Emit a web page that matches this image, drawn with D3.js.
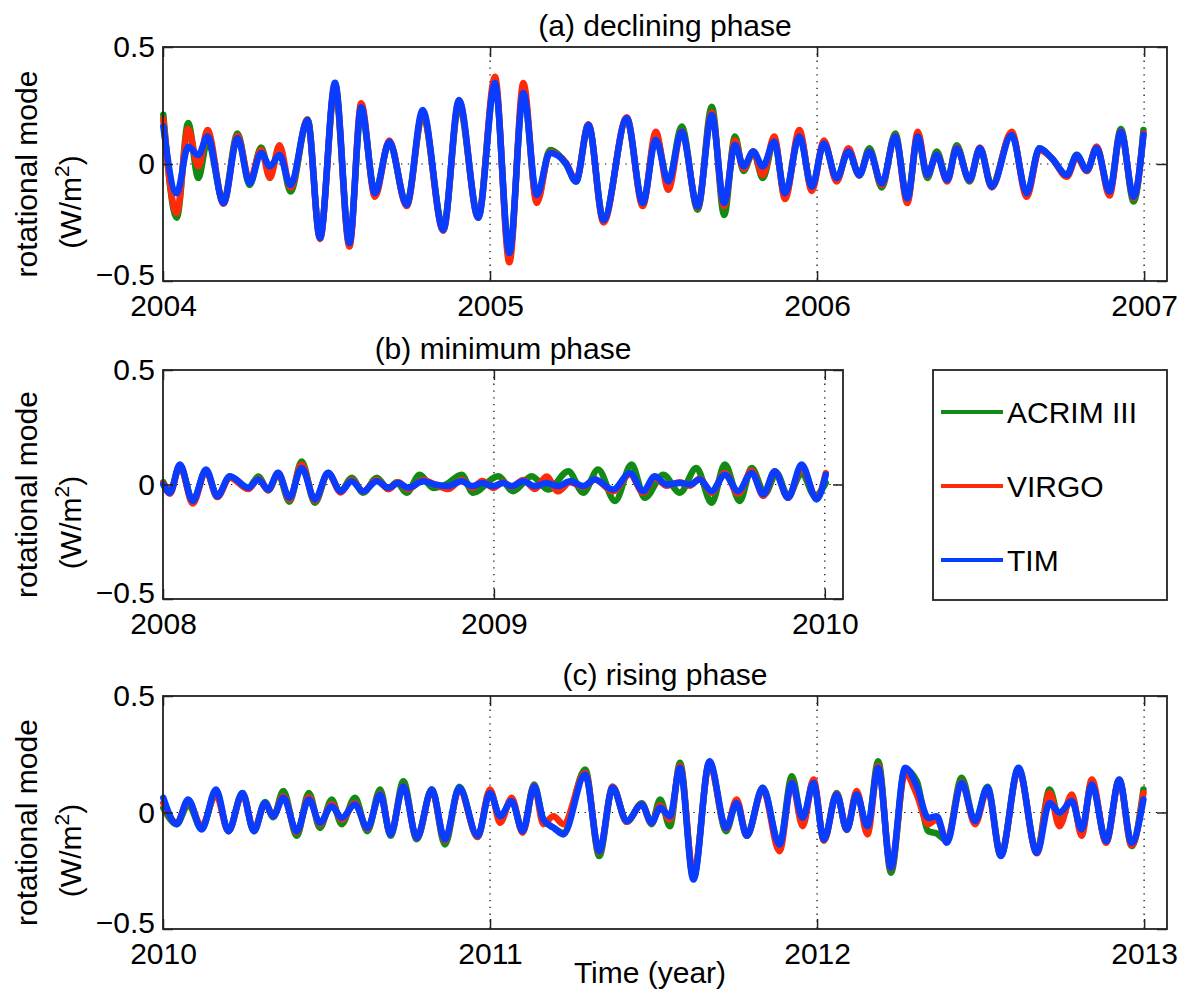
<!DOCTYPE html>
<html><head><meta charset="utf-8">
<script src="https://cdn.jsdelivr.net/npm/d3@7"></script>
<style>
body{margin:0;background:#fff;}
svg text{font-family:"Liberation Sans",Arial,Helvetica,sans-serif;fill:#000;}
</style></head><body>
<svg id="chart" width="1178" height="990"></svg>
<script>
// ---------- DATA ----------
const seriesNames = ["ACRIM III", "VIRGO", "TIM"];
const yTicks = [-0.5, 0, 0.5];

// (a) declining phase
const tA = [2004.001,2004.042,2004.077,2004.108,2004.136,2004.185,2004.228,2004.265,2004.300,2004.327,2004.356,2004.390,2004.442,2004.480,2004.526,2004.570,2004.606,2004.648,2004.692,2004.745,2004.794,2004.857,2004.905,2004.964,
2005.015,2005.059,2005.102,2005.143,2005.183,2005.232,2005.263,2005.301,2005.347,2005.418,2005.467,2005.507,2005.545,2005.586,2005.635,2005.678,2005.716,2005.749,2005.775,2005.805,2005.834,2005.869,2005.902,2005.946,2005.984,
2006.021,2006.060,2006.096,2006.129,2006.160,2006.198,2006.239,2006.276,2006.308,2006.337,2006.366,2006.398,2006.427,2006.466,2006.498,2006.534,2006.595,2006.641,2006.680,2006.718,2006.764,2006.794,2006.825,2006.855,2006.894,2006.929,2006.968,2006.998];
const acrimA = [0.21,-0.23,0.175,-0.06,0.1,-0.16,0.13,-0.09,0.07,-0.04,0.06,-0.118,0.19,-0.31,0.33,-0.34,0.23,-0.12,0.09,-0.17,0.21,-0.27,0.25,-0.22,
0.35,-0.39,0.31,-0.16,0.06,0.0,-0.075,0.167,-0.24,0.19,-0.17,0.12,-0.08,0.16,-0.195,0.245,-0.218,0.117,-0.03,0.053,-0.06,0.1,-0.14,0.13,-0.1,
0.09,-0.065,0.06,-0.05,0.067,-0.1,0.13,-0.155,0.12,-0.06,0.053,-0.07,0.08,-0.075,0.067,-0.09,0.13,-0.13,0.067,0.024,-0.047,0.04,-0.03,0.07,-0.12,0.15,-0.16,0.145];
const virgoA = [0.19,-0.21,0.15,-0.01,0.145,-0.17,0.12,-0.07,0.06,-0.06,0.08,-0.1,0.19,-0.32,0.34,-0.353,0.26,-0.14,0.1,-0.18,0.22,-0.285,0.27,-0.23,
0.373,-0.42,0.346,-0.167,0.05,0.005,-0.07,0.17,-0.25,0.2,-0.18,0.138,-0.11,0.14,-0.185,0.22,-0.18,0.1,-0.02,0.053,-0.047,0.117,-0.15,0.145,-0.115,
0.1,-0.075,0.067,-0.048,0.055,-0.09,0.12,-0.167,0.138,-0.05,0.04,-0.075,0.07,-0.07,0.07,-0.1,0.138,-0.14,0.06,0.024,-0.055,0.03,-0.03,0.075,-0.135,0.14,-0.145,0.13];
const timA = [0.16,-0.125,0.074,0.038,0.117,-0.167,0.11,-0.082,0.047,-0.01,0.038,-0.09,0.188,-0.317,0.347,-0.338,0.243,-0.125,0.095,-0.175,0.231,-0.282,0.274,-0.23,
0.346,-0.38,0.303,-0.132,0.047,0.003,-0.075,0.167,-0.24,0.195,-0.167,0.103,-0.075,0.138,-0.182,0.209,-0.167,0.081,-0.01,0.053,-0.01,0.095,-0.125,0.117,-0.097,
0.088,-0.061,0.053,-0.047,0.053,-0.083,0.117,-0.147,0.117,-0.047,0.038,-0.068,0.067,-0.068,0.067,-0.097,0.124,-0.125,0.067,0.024,-0.047,0.038,-0.026,0.067,-0.118,0.138,-0.14,0.125];

// (b) minimum phase
const tB = [2008.001,2008.021,2008.051,2008.090,2008.130,2008.164,2008.202,2008.258,2008.288,2008.318,
2008.348,2008.382,2008.419,2008.459,2008.499,2008.537,2008.570,2008.605,2008.646,2008.681,
2008.711,2008.741,2008.786,2008.822,2008.862,2008.902,2008.935,2008.965,2008.998,
2009.028,2009.053,2009.089,2009.124,2009.159,2009.194,2009.230,2009.270,2009.305,2009.360,
2009.411,2009.451,2009.486,2009.522,2009.562,2009.592,2009.622,2009.658,2009.698,2009.738,
2009.779,2009.814,2009.849,2009.889,2009.930,2009.975,2010.003];
const virgoB = [0.005,-0.04,0.085,-0.083,0.06,-0.055,0.03,-0.02,0.025,-0.025,
0.05,-0.065,0.087,-0.07,0.05,-0.035,0.02,-0.03,0.02,-0.02,
0.01,-0.02,0.02,0,-0.02,0.02,-0.015,0.015,-0.015,
0.01,-0.01,0.02,-0.02,0.035,-0.03,0.01,-0.01,0.022,-0.03,
0.045,-0.036,0.03,-0.005,0.01,-0.005,0.025,-0.036,0.05,-0.04,
0.06,-0.05,0.058,-0.058,0.075,-0.058,0.05];
const timB = [0,-0.036,0.087,-0.072,0.065,-0.051,0.036,-0.014,0.022,-0.022,
0.051,-0.058,0.072,-0.065,0.051,-0.029,0.014,-0.029,0.014,-0.014,
0.007,-0.014,0.014,0,-0.007,0.014,-0.007,0.007,-0.007,
0.007,-0.007,0.014,-0.007,0.007,-0.007,0.014,-0.007,0.022,-0.022,
0.05,-0.029,0.036,0,0.007,0,0.022,-0.029,0.043,-0.029,
0.05,-0.043,0.058,-0.058,0.087,-0.065,0.043];
const tBacrim = [2008.001,2008.021,2008.051,2008.090,2008.130,2008.164,2008.202,2008.258,2008.288,2008.318,
2008.348,2008.382,2008.419,2008.459,2008.499,2008.537,2008.570,2008.605,2008.646,2008.681,
2008.706,2008.736,2008.776,2008.816,2008.855,2008.902,2008.937,
2009.013,2009.058,2009.114,2009.164,2009.225,2009.270,2009.315,2009.366,2009.416,2009.456,
2009.512,2009.562,2009.612,2009.658,2009.698,2009.743,2009.779,2009.819,2009.854,2009.889,
2009.930,2009.970,2010.003];
const acrimB = [0.01,-0.03,0.08,-0.07,0.06,-0.05,0.035,-0.015,0.035,-0.025,
0.045,-0.075,0.1,-0.08,0.05,-0.03,0.03,-0.036,0.03,-0.02,
0.01,-0.036,0.043,-0.015,0.0,0.043,-0.036,
0.036,-0.029,0.036,-0.022,0.058,-0.036,0.065,-0.072,0.087,-0.058,
0.043,-0.036,0.072,-0.08,0.087,-0.072,0.072,-0.04,0.05,-0.05,
0.05,-0.05,0.007];

// (c) rising phase
const tC = [2010.001,2010.042,2010.077,2010.118,2010.162,2010.200,2010.243,2010.278,2010.312,2010.337,
2010.368,2010.409,2010.446,2010.480,2010.516,2010.546,2010.587,2010.625,2010.664,2010.696,
2010.735,2010.776,2010.822,2010.862,2010.906,2010.962,2011.000,2011.031,2011.066,2011.100,
2011.135,2011.163,2011.194,2011.224,2011.291,2011.334,2011.375,2011.418,2011.464,2011.494,
2011.520,2011.550,2011.581,2011.622,2011.671,2011.722,2011.754,2011.785,2011.834,2011.885,
2011.923,2011.956,2011.989,2012.021,2012.060,2012.091,2012.121,2012.154,2012.187,2012.226,
2012.269,2012.305,2012.340,2012.366,2012.397,2012.442,2012.483,2012.521,2012.562,2012.616,
2012.672,2012.711,2012.741,2012.779,2012.809,2012.840,2012.884,2012.924,2012.962,2012.998];
const acrimC = [0.02,-0.05,0.034,-0.07,0.09,-0.08,0.084,-0.08,0.045,-0.02,
0.092,-0.1,0.084,-0.066,0.056,-0.05,0.063,-0.08,0.099,-0.1,
0.134,-0.115,0.1,-0.137,0.11,-0.105,0.09,-0.02,0.05,-0.08,
0.12,-0.03,-0.065,-0.087,0.185,-0.187,0.11,-0.04,0.04,-0.05,
0.056,-0.059,0.213,-0.28,0.215,-0.08,0.045,-0.1,0.106,-0.14,
0.156,-0.04,0.13,-0.12,0.084,-0.075,0.08,-0.07,0.22,-0.259,
0.185,0.134,-0.08,-0.09,-0.12,0.149,-0.04,0.11,-0.18,0.19,
-0.17,0.099,-0.03,0.06,-0.085,0.13,-0.125,0.14,-0.144,0.099];
const virgoC = [0.04,-0.045,0.05,-0.06,0.077,-0.08,0.08,-0.075,0.04,-0.016,
0.07,-0.085,0.065,-0.05,0.035,-0.03,0.04,-0.07,0.08,-0.094,
0.115,-0.11,0.095,-0.12,0.1,-0.105,0.099,-0.044,0.063,-0.087,
0.115,-0.05,-0.016,-0.05,0.17,-0.17,0.11,-0.04,0.035,-0.045,
0.03,-0.03,0.2,-0.27,0.21,-0.07,0.056,-0.1,0.1,-0.166,
0.13,-0.059,0.142,-0.12,0.08,-0.075,0.092,-0.094,0.2,-0.24,
0.17,0.077,-0.05,-0.03,-0.12,0.13,-0.05,0.1,-0.185,0.185,
-0.175,0.084,-0.059,0.077,-0.1,0.142,-0.13,0.14,-0.14,0.084];
const timC = [0.063,-0.05,0.056,-0.073,0.099,-0.08,0.084,-0.08,0.041,-0.016,
0.063,-0.08,0.056,-0.044,0.027,-0.023,0.034,-0.066,0.077,-0.094,
0.113,-0.109,0.099,-0.116,0.106,-0.1,0.084,-0.016,0.049,-0.08,
0.113,-0.03,-0.065,-0.094,0.163,-0.166,0.106,-0.037,0.034,-0.044,
0.02,-0.016,0.192,-0.288,0.22,-0.066,0.041,-0.1,0.106,-0.137,
0.127,-0.023,0.127,-0.116,0.077,-0.073,0.077,-0.059,0.192,-0.237,
0.192,0.113,-0.023,-0.016,-0.13,0.127,-0.037,0.106,-0.187,0.192,
-0.173,0.041,0,0.049,-0.073,0.12,-0.123,0.142,-0.13,0.056];

const xTicksA = [2004, 2005, 2006, 2007];
const xTicksB = [2008, 2009, 2010];
const xTicksC = [2010, 2011, 2012, 2013];
const titles = ["(a) declining phase", "(b) minimum phase", "(c) rising phase"];

// ---------- STYLE / LAYOUT ----------
const colors = ["#138a13", "#ff2a0a", "#0a3cff"];
const FS = 30;
const svg = d3.select("#chart");

const panels = [
  {title: titles[0], domain: [2004, 2007.07], ticks: xTicksA, box: [163, 1167, 47, 281],
   series: [[tA, acrimA], [tA, virgoA], [tA, timA]]},
  {title: titles[1], domain: [2008, 2010.055], ticks: xTicksB, box: [163, 843, 370, 599],
   series: [[tBacrim, acrimB], [tB, virgoB], [tB, timB]]},
  {title: titles[2], domain: [2010, 2013.07], ticks: xTicksC, box: [163, 1167, 696, 929],
   series: [[tC, acrimC], [tC, virgoC], [tC, timC]]}
];

panels.forEach(p => {
  const [x0, x1, y0, y1] = p.box;
  const x = d3.scaleLinear().domain(p.domain).range([x0, x1]);
  const y = d3.scaleLinear().domain([-0.5, 0.5]).range([y1, y0]);
  const g = svg.append("g");

  // grid (dotted)
  g.selectAll(".vgrid").data(p.ticks.filter(t => t > p.domain[0] && t < p.domain[1]))
    .enter().append("line")
    .attr("x1", d => x(d)).attr("x2", d => x(d)).attr("y1", y0).attr("y2", y1)
    .attr("stroke", "#000").attr("stroke-width", 1.2).attr("stroke-dasharray", "1.3 5.5");
  g.append("line").attr("x1", x0).attr("x2", x1).attr("y1", y(0)).attr("y2", y(0))
    .attr("stroke", "#000").attr("stroke-width", 1.2).attr("stroke-dasharray", "1.3 5.5");

  // data lines
  const line = d3.line().x(d => x(d[0])).y(d => y(d[1])).curve(d3.curveMonotoneX);
  p.series.forEach((s, i) => {
    const pts = s[0].map((t, k) => [t, s[1][k]]);
    g.append("path").datum(pts).attr("d", line)
      .attr("fill", "none").attr("stroke", colors[i]).attr("stroke-width", 6.5)
      .attr("stroke-linejoin", "round").attr("stroke-linecap", "round");
  });

  // axes
  const fmt = d3.format("d");
  const xb = g.append("g").attr("transform", `translate(0,${y1})`)
    .call(d3.axisBottom(x).tickValues(p.ticks).tickFormat(fmt).tickSizeInner(-10).tickSizeOuter(0).tickPadding(14));
  const xt = g.append("g").attr("transform", `translate(0,${y0})`)
    .call(d3.axisTop(x).tickValues(p.ticks).tickFormat("").tickSizeInner(-10).tickSizeOuter(0));
  const yl = g.append("g").attr("transform", `translate(${x0},0)`)
    .call(d3.axisLeft(y).tickValues(yTicks).tickFormat(d => d === 0 ? "0" : d3.format(".1f")(d)).tickSizeInner(-10).tickSizeOuter(0).tickPadding(8));
  const yr = g.append("g").attr("transform", `translate(${x1},0)`)
    .call(d3.axisRight(y).tickValues(yTicks).tickFormat("").tickSizeInner(-10).tickSizeOuter(0));
  [xb, xt, yl, yr].forEach(a => {
    a.select(".domain").remove();
    a.selectAll("line").attr("stroke", "#222").attr("stroke-width", 1.5);
    a.selectAll("text").attr("font-size", FS).attr("font-family", "Liberation Sans, Arial, sans-serif").attr("fill", "#000");
  });
  // nudge the bottom tick label "-0.5" up slightly, as in the reference
  yl.selectAll(".tick").filter(d => d === -0.5).select("text").attr("dy", "0.1em");

  // box
  g.append("rect").attr("x", x0).attr("y", y0).attr("width", x1 - x0).attr("height", y1 - y0)
    .attr("fill", "none").attr("stroke", "#222").attr("stroke-width", 1.8);

  // title
  g.append("text").attr("x", (x0 + x1) / 2).attr("y", y0 - 11).attr("text-anchor", "middle")
    .attr("font-size", FS).text(p.title);

  // y label
  const yc = (y0 + y1) / 2;
  g.append("text").attr("transform", `translate(37,${yc + 10}) rotate(-90)`).attr("text-anchor", "middle")
    .attr("font-size", FS).text("rotational mode");
  const yl2 = g.append("text").attr("transform", `translate(81,${yc + 38}) rotate(-90)`).attr("text-anchor", "middle")
    .attr("font-size", FS);
  yl2.append("tspan").text("(W/m");
  yl2.append("tspan").attr("font-size", FS * 0.7).attr("dy", -12).text("2");
  yl2.append("tspan").attr("dy", 12).text(")");
});

// x label
svg.append("text").attr("x", 650).attr("y", 983).attr("text-anchor", "middle")
  .attr("font-size", FS).text("Time (year)");

// legend
const lg = svg.append("g");
lg.append("rect").attr("x", 933).attr("y", 370).attr("width", 1167 - 933).attr("height", 230)
  .attr("fill", "#fff").attr("stroke", "#222").attr("stroke-width", 1.8);
const legY = d3.scalePoint().domain(seriesNames).range([412, 560]);
seriesNames.forEach((n, i) => {
  lg.append("line").attr("x1", 941).attr("x2", 1003).attr("y1", legY(n)).attr("y2", legY(n))
    .attr("stroke", colors[i]).attr("stroke-width", 4);
  lg.append("text").attr("x", 1007).attr("y", legY(n)).attr("dy", "0.36em")
    .attr("font-size", FS).text(n);
});
</script>
</body></html>
